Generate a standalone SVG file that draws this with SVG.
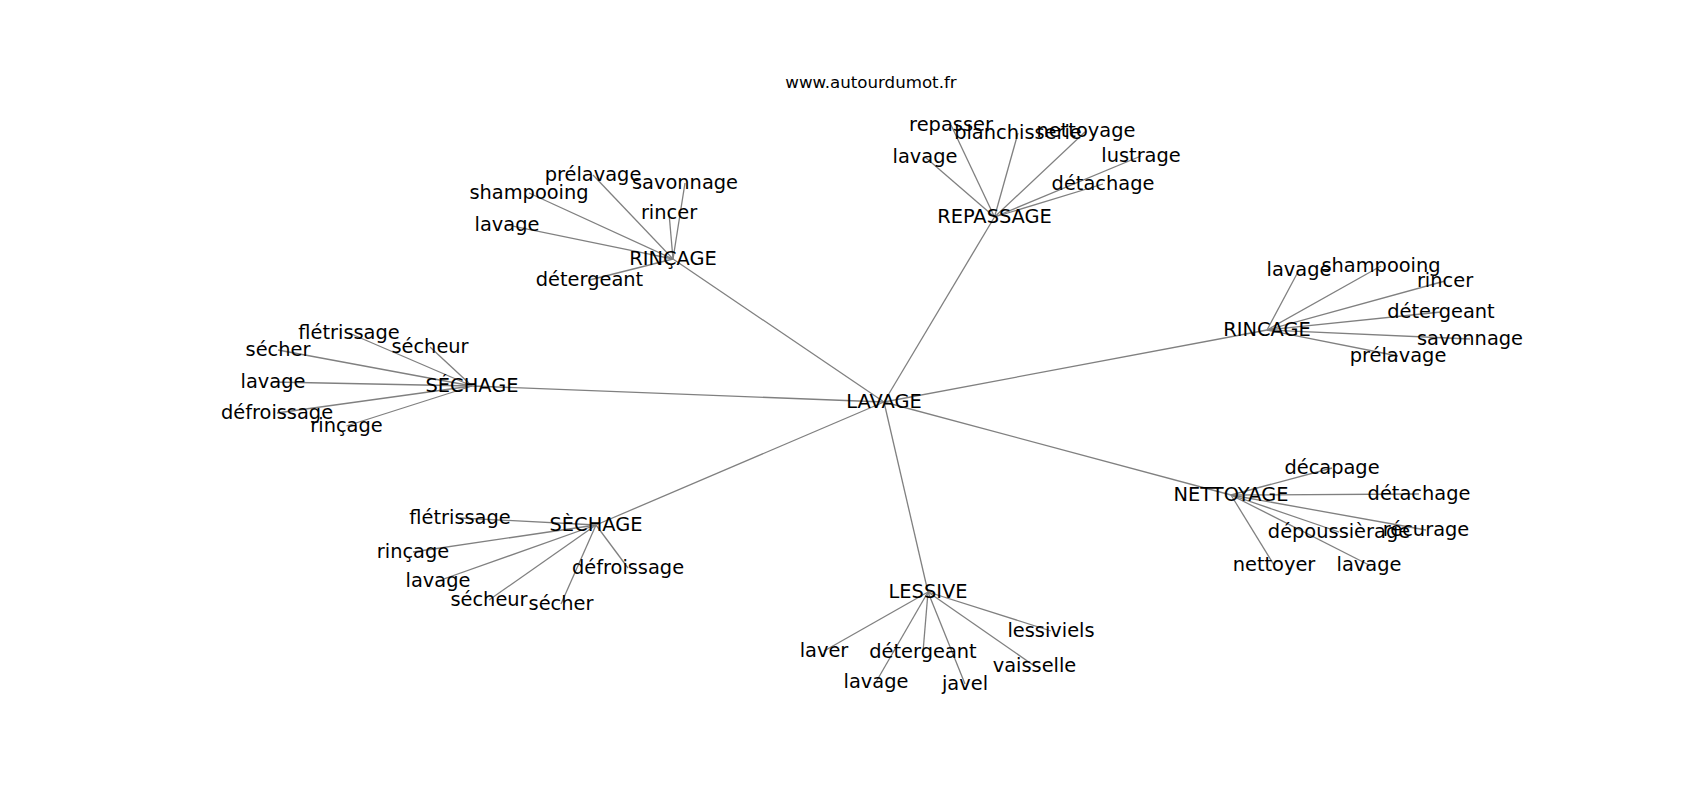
<svg xmlns="http://www.w3.org/2000/svg" width="1700" height="800" viewBox="0 0 1700 800">
<style>
text { font-family: "DejaVu Sans", "Liberation Sans", sans-serif; fill: #000; text-anchor: middle; }
.n { font-size: 19.4px; }
.t { font-size: 16.67px; }
#edges line { stroke: #808080; stroke-width: 1.3; fill: none; }
</style>
<rect width="1700" height="800" fill="#fff"/>
<g id="labels" transform="translate(0,1)">
<text class="t" x="871" y="87.3">www.autourdumot.fr</text>
</g>
<g id="edges">
  <line x1="884" y1="402" x2="673" y2="259"/>
  <line x1="884" y1="402" x2="994.5" y2="217"/>
  <line x1="884" y1="402" x2="1267" y2="330"/>
  <line x1="884" y1="402" x2="1231" y2="495"/>
  <line x1="884" y1="402" x2="928" y2="592"/>
  <line x1="884" y1="402" x2="596" y2="525"/>
  <line x1="884" y1="402" x2="472" y2="386"/>
  <line x1="673" y1="259" x2="593" y2="175"/>
  <line x1="673" y1="259" x2="685" y2="183"/>
  <line x1="673" y1="259" x2="529" y2="193"/>
  <line x1="673" y1="259" x2="669" y2="213"/>
  <line x1="673" y1="259" x2="507" y2="225"/>
  <line x1="673" y1="259" x2="589.5" y2="280"/>
  <line x1="994.5" y1="217" x2="951" y2="125"/>
  <line x1="994.5" y1="217" x2="1018" y2="133"/>
  <line x1="994.5" y1="217" x2="1086" y2="131"/>
  <line x1="994.5" y1="217" x2="925" y2="157"/>
  <line x1="994.5" y1="217" x2="1141" y2="156"/>
  <line x1="994.5" y1="217" x2="1103" y2="184"/>
  <line x1="1267" y1="330" x2="1299" y2="270"/>
  <line x1="1267" y1="330" x2="1381" y2="266"/>
  <line x1="1267" y1="330" x2="1445" y2="281"/>
  <line x1="1267" y1="330" x2="1441" y2="312"/>
  <line x1="1267" y1="330" x2="1470" y2="339"/>
  <line x1="1267" y1="330" x2="1398" y2="356"/>
  <line x1="1231" y1="495" x2="1332" y2="468"/>
  <line x1="1231" y1="495" x2="1419" y2="494"/>
  <line x1="1231" y1="495" x2="1339" y2="532"/>
  <line x1="1231" y1="495" x2="1426" y2="530"/>
  <line x1="1231" y1="495" x2="1274" y2="565"/>
  <line x1="1231" y1="495" x2="1369" y2="565"/>
  <line x1="928" y1="592" x2="824" y2="651"/>
  <line x1="928" y1="592" x2="923" y2="652"/>
  <line x1="928" y1="592" x2="876" y2="682"/>
  <line x1="928" y1="592" x2="965" y2="684"/>
  <line x1="928" y1="592" x2="1034.5" y2="666"/>
  <line x1="928" y1="592" x2="1051" y2="631"/>
  <line x1="596" y1="525" x2="460" y2="518"/>
  <line x1="596" y1="525" x2="413" y2="552"/>
  <line x1="596" y1="525" x2="438" y2="581"/>
  <line x1="596" y1="525" x2="489" y2="600"/>
  <line x1="596" y1="525" x2="561" y2="604"/>
  <line x1="596" y1="525" x2="628" y2="568"/>
  <line x1="472" y1="386" x2="349" y2="333"/>
  <line x1="472" y1="386" x2="430" y2="347"/>
  <line x1="472" y1="386" x2="278" y2="350"/>
  <line x1="472" y1="386" x2="273" y2="382"/>
  <line x1="472" y1="386" x2="277" y2="413"/>
  <line x1="472" y1="386" x2="346.5" y2="426"/>
</g>
<g id="nodes" transform="translate(0,1)">
<g id="n-lavage-center"><text class="n" x="884" y="407">LAVAGE</text></g>
<g id="n-rincage1"><text class="n" x="673" y="264">RINÇAGE</text></g>
<g id="n-r1-prelavage"><text class="n" x="593" y="180">prélavage</text></g>
<g id="n-r1-savonnage"><text class="n" x="685" y="188">savonnage</text></g>
<g id="n-r1-shampooing"><text class="n" x="529" y="198">shampooing</text></g>
<g id="n-r1-rincer"><text class="n" x="669" y="218">rincer</text></g>
<g id="n-r1-lavage"><text class="n" x="507" y="230">lavage</text></g>
<g id="n-r1-detergeant"><text class="n" x="589.5" y="285">détergeant</text></g>
<g id="n-repassage"><text class="n" x="994.5" y="222">REPASSAGE</text></g>
<g id="n-rp-repasser"><text class="n" x="951" y="130">repasser</text></g>
<g id="n-rp-blanchisserie"><text class="n" x="1018" y="138">blanchisserie</text></g>
<g id="n-rp-nettoyage"><text class="n" x="1086" y="136">nettoyage</text></g>
<g id="n-rp-lavage"><text class="n" x="925" y="162">lavage</text></g>
<g id="n-rp-lustrage"><text class="n" x="1141" y="161">lustrage</text></g>
<g id="n-rp-detachage"><text class="n" x="1103" y="189">détachage</text></g>
<g id="n-rincage2"><text class="n" x="1267" y="335">RINCAGE</text></g>
<g id="n-r2-lavage"><text class="n" x="1299" y="275">lavage</text></g>
<g id="n-r2-shampooing"><text class="n" x="1381" y="271">shampooing</text></g>
<g id="n-r2-rincer"><text class="n" x="1445" y="286">rincer</text></g>
<g id="n-r2-detergeant"><text class="n" x="1441" y="317">détergeant</text></g>
<g id="n-r2-savonnage"><text class="n" x="1470" y="344">savonnage</text></g>
<g id="n-r2-prelavage"><text class="n" x="1398" y="361">prélavage</text></g>
<g id="n-nettoyage"><text class="n" x="1231" y="500">NETTOYAGE</text></g>
<g id="n-nt-decapage"><text class="n" x="1332" y="473">décapage</text></g>
<g id="n-nt-detachage"><text class="n" x="1419" y="499">détachage</text></g>
<g id="n-nt-depoussierage"><text class="n" x="1339" y="537">dépoussièrage</text></g>
<g id="n-nt-recurage"><text class="n" x="1426" y="535">récurage</text></g>
<g id="n-nt-nettoyer"><text class="n" x="1274" y="570">nettoyer</text></g>
<g id="n-nt-lavage"><text class="n" x="1369" y="570">lavage</text></g>
<g id="n-lessive"><text class="n" x="928" y="597">LESSIVE</text></g>
<g id="n-ls-laver"><text class="n" x="824" y="656">laver</text></g>
<g id="n-ls-detergeant"><text class="n" x="923" y="657">détergeant</text></g>
<g id="n-ls-lavage"><text class="n" x="876" y="687">lavage</text></g>
<g id="n-ls-javel"><text class="n" x="965" y="689">javel</text></g>
<g id="n-ls-vaisselle"><text class="n" x="1034.5" y="671">vaisselle</text></g>
<g id="n-ls-lessiviels"><text class="n" x="1051" y="636">lessiviels</text></g>
<g id="n-sechage-grave"><text class="n" x="596" y="530">SÈCHAGE</text></g>
<g id="n-sg-fletrissage"><text class="n" x="460" y="523">flétrissage</text></g>
<g id="n-sg-rincage"><text class="n" x="413" y="557">rinçage</text></g>
<g id="n-sg-lavage"><text class="n" x="438" y="586">lavage</text></g>
<g id="n-sg-secheur"><text class="n" x="489" y="605">sécheur</text></g>
<g id="n-sg-secher"><text class="n" x="561" y="609">sécher</text></g>
<g id="n-sg-defroissage"><text class="n" x="628" y="573">défroissage</text></g>
<g id="n-sechage-aigu"><text class="n" x="472" y="391">SÉCHAGE</text></g>
<g id="n-sa-fletrissage"><text class="n" x="349" y="338">flétrissage</text></g>
<g id="n-sa-secheur"><text class="n" x="430" y="352">sécheur</text></g>
<g id="n-sa-secher"><text class="n" x="278" y="355">sécher</text></g>
<g id="n-sa-lavage"><text class="n" x="273" y="387">lavage</text></g>
<g id="n-sa-defroissage"><text class="n" x="277" y="418">défroissage</text></g>
<g id="n-sa-rincage"><text class="n" x="346.5" y="431">rinçage</text></g>
</g>
</svg>
